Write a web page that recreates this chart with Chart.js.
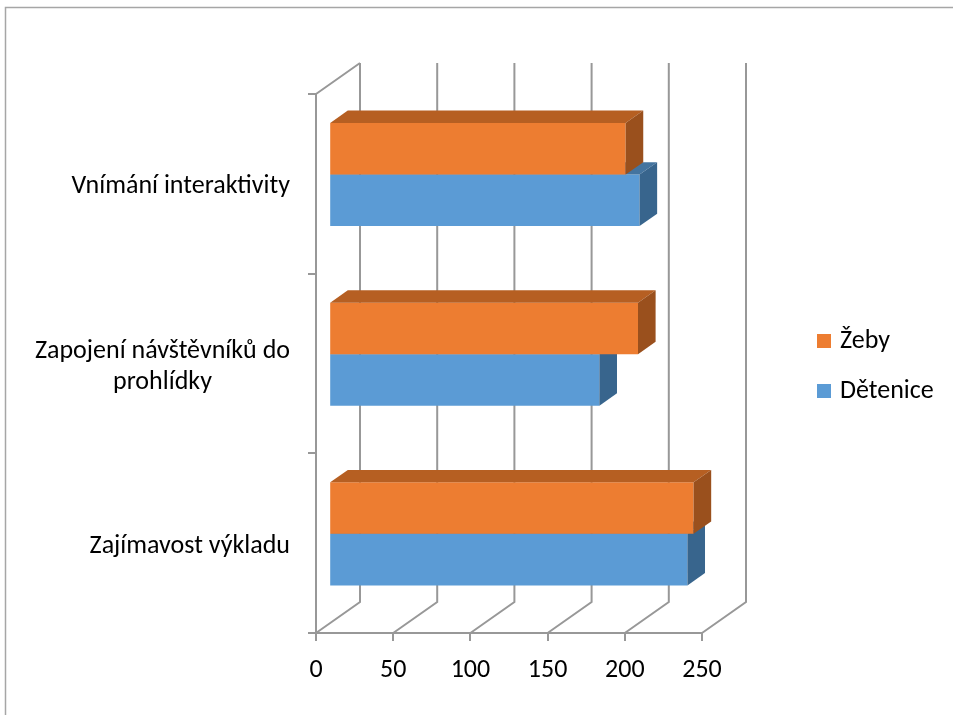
<!DOCTYPE html>
<html>
<head>
<meta charset="utf-8">
<script src="https://cdn.jsdelivr.net/npm/chart.js@4.4.1/dist/chart.umd.min.js"></script>
<style>
    html, body { margin: 0; padding: 0; background: #fff; }
    #wrap { position: relative; width: 953px; height: 715px; }
</style>
</head>
<body>
<div id="wrap"><canvas id="chart" width="953" height="715"></canvas></div>
<script>
// data
const categories = ['Vnímání interaktivity', ['Zapojení návštěvníků do', 'prohlídky'], 'Zajímavost výkladu'];
const seriesNames = ['Žeby', 'Dětenice'];
const zebyValues = [192, 200, 236];
const deteniceValues = [201, 175, 232];
const xTicks = [0, 50, 100, 150, 200, 250];

const FONT = 'Carlito, Lato, "Open Sans", sans-serif';
const FONT_SIZE = 26;
const GRID = '#989898';
const ORANGE = { front: '#ed7d31', top: '#b65f22', side: '#9a501d' };
const BLUE = { front: '#5b9bd5', top: '#44749f', side: '#38658d' };

// oblique 3D depth of the plot box, bars sit in the middle of it
const DEPTH_X = 44;
const DEPTH_Y = -31;
const BAR_NEAR = 0.3;
const BAR_FAR = 0.7;

const shades = [ORANGE, BLUE];

const threeDPlugin = {
    id: 'threeD',
    beforeDraw(chart) {
        const { ctx } = chart;
        ctx.save();
        ctx.strokeStyle = '#a6a6a6';
        ctx.lineWidth = 1.5;
        ctx.beginPath();
        ctx.moveTo(5.5, 715);
        ctx.lineTo(5.5, 7.5);
        ctx.lineTo(953, 7.5);
        ctx.stroke();
        ctx.restore();
    },
    beforeDatasetsDraw(chart) {
        const { ctx, chartArea: { top, bottom, left }, scales: { x } } = chart;
        ctx.save();
        ctx.strokeStyle = GRID;
        ctx.lineWidth = 2;
        ctx.beginPath();
        ctx.moveTo(left, top);
        ctx.lineTo(left + DEPTH_X, top + DEPTH_Y);
        xTicks.forEach((value) => {
            const px = x.getPixelForValue(value);
            ctx.moveTo(px, bottom);
            ctx.lineTo(px + DEPTH_X, bottom + DEPTH_Y);
            ctx.lineTo(px + DEPTH_X, top + DEPTH_Y);
        });
        ctx.stroke();
        ctx.restore();
    },
    beforeDatasetDraw(chart) {
        chart.ctx.save();
        chart.ctx.translate(DEPTH_X * BAR_NEAR, DEPTH_Y * BAR_NEAR);
    },
    afterDatasetDraw(chart, args) {
        const { ctx } = chart;
        const shade = shades[args.index];
        const dx = DEPTH_X * (BAR_FAR - BAR_NEAR);
        const dy = DEPTH_Y * (BAR_FAR - BAR_NEAR);
        args.meta.data.forEach((bar) => {
            const { x, y, base, height } = bar.getProps(['x', 'y', 'base', 'height'], true);
            const t = y - height / 2;
            const b = y + height / 2;
            ctx.fillStyle = shade.top;
            ctx.beginPath();
            ctx.moveTo(base, t);
            ctx.lineTo(x, t);
            ctx.lineTo(x + dx, t + dy);
            ctx.lineTo(base + dx, t + dy);
            ctx.closePath();
            ctx.fill();
            ctx.fillStyle = shade.side;
            ctx.beginPath();
            ctx.moveTo(x, t);
            ctx.lineTo(x + dx, t + dy);
            ctx.lineTo(x + dx, b + dy);
            ctx.lineTo(x, b);
            ctx.closePath();
            ctx.fill();
        });
        ctx.restore();
    },
    afterDraw(chart) {
        const { ctx, scales: { y } } = chart;
        ctx.save();
        ctx.fillStyle = '#000';
        ctx.font = `${FONT_SIZE}px ${FONT}`;
        ctx.textAlign = 'center';
        ctx.textBaseline = 'middle';

        // category labels: block right aligned, lines centred
        chart.data.labels.forEach((label, i) => {
            const lines = Array.isArray(label) ? label : [label];
            const widest = Math.max(...lines.map((l) => ctx.measureText(l).width));
            const cx = 290 - widest / 2;
            const lineHeight = 31;
            const cy = y.getPixelForValue(i) + 3 - (lines.length - 1) * lineHeight / 2;
            lines.forEach((line, k) => ctx.fillText(line, cx, cy + k * lineHeight));
        });

        // legend
        ctx.textAlign = 'left';
        chart.data.datasets.forEach((ds, i) => {
            const cy = 341 + i * 50;
            ctx.fillStyle = ds.backgroundColor;
            ctx.fillRect(817, cy - 7, 14, 14);
            ctx.fillStyle = '#000';
            ctx.fillText(ds.label, 840, cy);
        });
        ctx.restore();
    },
};

new Chart(document.getElementById('chart').getContext('2d'), {
    type: 'bar',
    data: {
        labels: categories,
        datasets: [
            { label: seriesNames[0], data: zebyValues, backgroundColor: ORANGE.front },
            { label: seriesNames[1], data: deteniceValues, backgroundColor: BLUE.front },
        ],
    },
    options: {
        responsive: false,
        animation: false,
        indexAxis: 'y',
        categoryPercentage: 0.574,
        barPercentage: 1,
        layout: { padding: { left: 0, top: 94, right: 251, bottom: 0 } },
        plugins: {
            legend: { display: false },
            tooltip: { enabled: false },
        },
        scales: {
            x: {
                min: 0,
                max: 250,
                afterBuildTicks(scale) {
                    scale.ticks = xTicks.map((value) => ({ value }));
                },
                afterFit(scale) {
                    scale.height = 82;
                },
                grid: { drawOnChartArea: false, tickLength: 8, color: GRID, lineWidth: 2 },
                border: { color: GRID, width: 2 },
                ticks: { color: '#000', font: { family: FONT, size: FONT_SIZE }, padding: 14, maxRotation: 0 },
            },
            y: {
                afterFit(scale) {
                    scale.width = 316;
                },
                grid: { drawOnChartArea: false, tickLength: 8, offset: true, color: GRID, lineWidth: 2 },
                border: { color: GRID, width: 2 },
                ticks: { display: false },
            },
        },
    },
    plugins: [threeDPlugin],
});
</script>
</body>
</html>
